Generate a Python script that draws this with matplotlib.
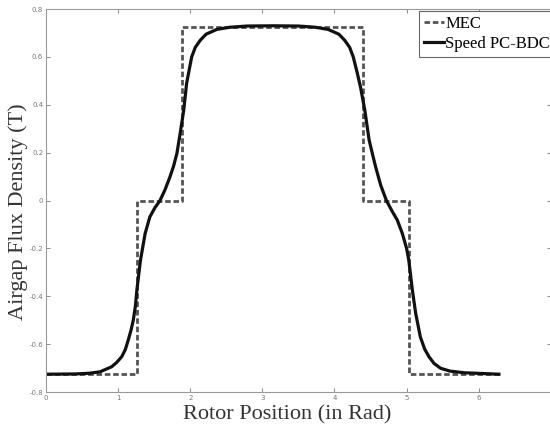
import numpy as np
import matplotlib.pyplot as plt

# MEC step waveform (rad, T)
mec_x = [0.0, 1.26, 1.26, 1.88, 1.88, 4.40, 4.40, 5.03, 5.03, 6.28]
mec_y = [-0.725, -0.725, 0.0, 0.0, 0.725, 0.725, 0.0, 0.0, -0.725, -0.725]

# Speed PC-BDC waveform
pc_x = [0.0, 0.40, 0.60, 0.75, 0.91, 0.98, 1.05, 1.10, 1.14, 1.18, 1.21, 1.24, 1.26,
        1.31, 1.375, 1.44, 1.51, 1.58, 1.65, 1.72, 1.77, 1.815, 1.86, 1.91, 1.95,
        2.02, 2.07, 2.14, 2.22, 2.37, 2.55, 2.79, 3.14,
        3.50, 3.73, 3.91, 4.06, 4.14, 4.21, 4.26, 4.31, 4.36, 4.42, 4.48,
        4.53, 4.57, 4.64, 4.72, 4.80, 4.87, 4.94, 5.00, 5.03, 5.08, 5.125,
        5.19, 5.25, 5.31, 5.38, 5.47, 5.60, 5.80, 6.28]
pc_y = [-0.725, -0.724, -0.721, -0.715, -0.694, -0.676, -0.652, -0.622, -0.583, -0.54, -0.50, -0.44, -0.374,
        -0.249, -0.137, -0.068, -0.03, 0.0, 0.045, 0.10, 0.145, 0.197, 0.28, 0.378, 0.49,
        0.60, 0.64, 0.67, 0.695, 0.715, 0.724, 0.729, 0.73,
        0.729, 0.724, 0.715, 0.695, 0.67, 0.64, 0.60, 0.54, 0.475, 0.378, 0.253,
        0.19, 0.141, 0.065, 0.0, -0.045, -0.081, -0.137, -0.20, -0.249, -0.374, -0.47,
        -0.569, -0.62, -0.652, -0.68, -0.70, -0.712, -0.719, -0.725]

x_ticks = [0, 1, 2, 3, 4, 5, 6]
y_ticks = [-0.8, -0.6, -0.4, -0.2, 0, 0.2, 0.4, 0.6, 0.8]
y_tick_labels = ['-0.8', '-0.6', '-0.4', '-0.2', '0', '0.2', '0.4', '0.6', '0.8']

fig = plt.figure(figsize=(5.5, 4.3), dpi=100)
ax = fig.add_axes([0.0836, 0.088, 0.918, 0.891])

ax.plot(mec_x, mec_y, color='#555555', lw=2.0, ls=(0, (2, 1)), label='MEC')
ax.plot(pc_x, pc_y, color='#111111', lw=2.3, label='Speed PC-BDC',
        solid_joinstyle='round')

ax.set_xlim(0, 7)
ax.set_ylim(-0.8, 0.8)
ax.set_xticks(x_ticks)
ax.set_yticks(y_ticks)
ax.set_xticklabels([str(t) for t in x_ticks])
ax.set_yticklabels(y_tick_labels)
ax.tick_params(direction='in', length=3, width=0.6, labelsize=5,
               colors='#777777', top=True, right=True, pad=2)
for s in ax.spines.values():
    s.set_color('#999999')
    s.set_linewidth(0.8)

ax.set_xlabel('Rotor Position (in Rad)', family='Liberation Serif', fontsize=16,
              color='#333333')
ax.set_ylabel('Airgap Flux Density (T)', family='Liberation Serif', fontsize=16,
              color='#333333')
ax.xaxis.set_label_coords(0.478, -0.035, transform=ax.transAxes)
ax.xaxis.label.set_va('top')
ax.yaxis.set_label_coords(-0.0556, 0.47, transform=ax.transAxes)
ax.yaxis.label.set_va('center')
ax.yaxis.label.set_ha('center')

leg = ax.legend(loc='upper left', bbox_to_anchor=(0.738, 0.995),
                prop={'family': 'Liberation Serif', 'size': 12},
                fancybox=False, framealpha=1, edgecolor='#666666',
                handlelength=1.2, handletextpad=0.1, borderpad=0.3,
                labelspacing=0.25, borderaxespad=0.0)
leg.get_frame().set_linewidth(0.8)

fig.savefig('out.png', dpi=100)
